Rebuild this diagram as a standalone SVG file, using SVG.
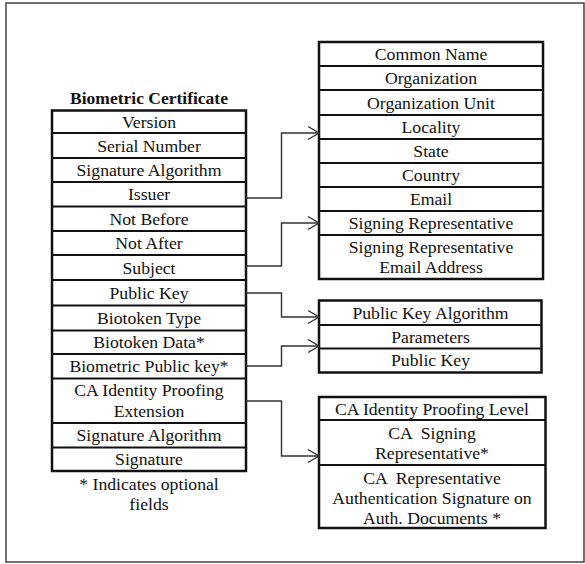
<svg xmlns="http://www.w3.org/2000/svg" width="585" height="564" viewBox="0 0 585 564">
<style>
text{font-family:"Liberation Serif","Times New Roman",serif;font-size:17.7px;fill:#111;text-anchor:middle;white-space:pre}
.t{font-weight:bold;font-size:17.5px}
.box{fill:#fff;stroke:#111;stroke-width:2.5}
.row{stroke:#111;stroke-width:2}
.conn{fill:none;stroke:#333;stroke-width:1.4}
</style>
<defs>
<marker id="ah" markerWidth="14" markerHeight="16" refX="12" refY="8" orient="auto" markerUnits="userSpaceOnUse">
<path d="M1,1.5 L12,8 L1,14.5" fill="none" stroke="#333" stroke-width="1.4"/>
</marker>
</defs>
<rect x="6" y="3" width="578" height="559" fill="#fff" stroke="#444" stroke-width="1.5"/>
<g id="cert">
<text class="t" x="149" y="104">Biometric Certificate</text>
<rect class="box" x="52" y="110.5" width="194" height="360.5"/>
<path class="row" d="M52,133H246M52,158H246M52,182H246M52,206.5H246M52,231H246M52,255H246M52,280H246M52,305.5H246M52,330.5H246M52,354H246M52,378.5H246M52,423H246M52,447.5H246"/>
<text x="149" y="128">Version</text>
<text x="149" y="151.5">Serial Number</text>
<text x="149" y="176">Signature Algorithm</text>
<text x="149" y="200">Issuer</text>
<text x="149" y="224.5">Not Before</text>
<text x="149" y="249">Not After</text>
<text x="149" y="273.5">Subject</text>
<text x="149" y="298.5">Public Key</text>
<text x="149" y="324">Biotoken Type</text>
<text x="149" y="348">Biotoken Data*</text>
<text x="149" y="372">Biometric Public key*</text>
<text x="149" y="396">CA Identity Proofing</text>
<text x="149" y="417">Extension</text>
<text x="149" y="441">Signature Algorithm</text>
<text x="149" y="465">Signature</text>
<text x="149" y="490">* Indicates optional</text>
<text x="149" y="510">fields</text>
</g>
<g id="subject">
<rect class="box" x="319" y="42" width="224" height="237"/>
<path class="row" d="M319,66H543M319,90H543M319,115H543M319,139H543M319,163H543M319,187H543M319,211H543M319,235H543"/>
<text x="431" y="60">Common Name</text>
<text x="431" y="84">Organization</text>
<text x="431" y="108.5">Organization Unit</text>
<text x="431" y="133">Locality</text>
<text x="431" y="157">State</text>
<text x="431" y="181">Country</text>
<text x="431" y="205">Email</text>
<text x="431" y="229">Signing Representative</text>
<text x="431" y="253">Signing Representative</text>
<text x="431" y="273">Email Address</text>
</g>
<g id="pubkey">
<rect class="box" x="319" y="300.5" width="222.5" height="72"/>
<path class="row" d="M319,325H541.5M319,348.5H541.5"/>
<text x="430.5" y="319">Public Key Algorithm</text>
<text x="430.5" y="342.5">Parameters</text>
<text x="430.5" y="366">Public Key</text>
</g>
<g id="caext">
<rect class="box" x="319" y="397" width="226.5" height="131"/>
<path class="row" d="M319,420H545.5M319,465H545.5"/>
<text x="432" y="414.5">CA Identity Proofing Level</text>
<text x="432" y="439">CA  Signing</text>
<text x="432" y="459">Representative*</text>
<text x="432" y="484">CA  Representative</text>
<text x="432" y="504">Authentication Signature on</text>
<text x="432" y="524">Auth. Documents *</text>
</g>
<g id="connectors">
<path class="conn" marker-end="url(#ah)" d="M246,198H281.5V133H319"/>
<path class="conn" marker-end="url(#ah)" d="M246,266H281.5V223H319"/>
<path class="conn" marker-end="url(#ah)" d="M246,293H281.5V317H319"/>
<path class="conn" marker-end="url(#ah)" d="M246,366H281.5V346H319"/>
<path class="conn" marker-end="url(#ah)" d="M246,401H281.5V456H319"/>
</g>
</svg>
